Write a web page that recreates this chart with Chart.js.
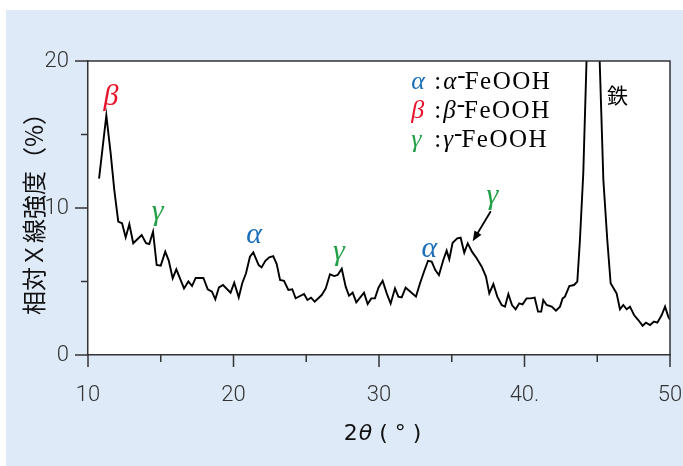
<!DOCTYPE html>
<html>
<head>
<meta charset="utf-8">
<script src="https://cdn.jsdelivr.net/npm/chart.js@4/dist/chart.umd.min.js"></script>
<style>
  html, body { margin: 0; padding: 0; background: #fff; }
  canvas { display: block; }
</style>
</head>
<body>
<canvas id="xrd" width="683" height="466"></canvas>
<script>
// 2θ (°)
const twoTheta = [
  10.76, 11.26, 11.56, 11.81, 12.08, 12.34, 12.59, 12.84, 13.11, 13.69,
  13.99, 14.21, 14.47, 14.72, 15.0, 15.31, 15.55, 15.82, 16.07, 16.6,
  16.9, 17.15, 17.4, 17.93, 18.23, 18.52, 18.75, 19.0, 19.28, 19.8,
  20.05, 20.36, 20.6, 20.86, 21.13, 21.36, 21.73, 21.93, 22.19, 22.46,
  22.73, 22.97, 23.2, 23.47, 23.77, 24.04, 24.27, 24.85, 25.08, 25.33,
  25.58, 26.06, 26.34, 26.63, 26.93, 27.16, 27.44, 27.71, 27.94, 28.19,
  28.44, 28.97, 29.22, 29.47, 29.72, 29.97, 30.25, 30.53, 30.8, 31.1,
  31.33, 31.56, 31.83, 32.08, 32.54, 32.82, 33.11, 33.37, 33.62, 33.87,
  34.12, 34.42, 34.65, 34.83, 35.06, 35.38, 35.61, 35.86, 36.1, 36.39,
  36.71, 37.06, 37.35, 37.58, 37.86, 38.13, 38.43, 38.66, 38.89, 39.14,
  39.39, 39.64, 39.87, 40.14, 40.44, 40.7, 40.93, 41.15, 41.29, 41.52,
  41.87, 42.16, 42.44, 42.62, 42.78, 43.08, 43.4, 43.63, 43.81, 44.04,
  44.7, 45.42, 45.69, 45.92, 46.33, 46.56, 46.79, 47.02, 47.25, 47.53,
  47.82, 48.12, 48.35, 48.63, 48.9, 49.13, 49.43, 49.66, 49.88, 50.0
];
// 相対X線強度 (%)
const intensity = [
  12.0, 16.3, 13.7, 11.2, 9.07, 8.96, 8.0, 8.9, 7.6, 8.16,
  7.6, 7.55, 8.39, 6.12, 6.08, 7.03, 6.42, 5.22, 5.83, 4.53,
  5.0, 4.69, 5.24, 5.24, 4.47, 4.31, 3.79, 4.6, 4.76, 4.24,
  4.92, 3.92, 4.88, 5.56, 6.69, 6.98, 6.12, 5.96, 6.41, 6.64,
  6.73, 6.19, 5.1, 5.05, 4.42, 4.47, 3.86, 4.15, 3.74, 3.9,
  3.63, 4.08, 4.53, 5.49, 5.37, 5.44, 5.87, 4.65, 4.03, 4.24,
  3.58, 4.24, 3.47, 3.85, 3.85, 4.6, 5.05, 4.19, 3.5, 4.53,
  3.97, 3.92, 4.58, 4.37, 3.97, 4.88, 5.71, 6.41, 6.35, 5.78,
  5.44, 6.46, 7.1, 6.51, 7.64, 7.94, 7.98, 6.96, 7.6, 7.03,
  6.58, 6.01, 5.33, 4.19, 4.83, 3.97, 3.4, 3.29, 4.15, 3.4,
  3.11, 3.52, 3.45, 3.85, 3.85, 3.9, 2.95, 2.95, 3.74, 3.4,
  3.29, 3.01, 3.29, 3.85, 3.97, 4.69, 4.76, 4.99, 7.82, 12.36,
  35, 11.9, 7.82, 4.88, 4.19, 3.11, 3.4, 3.11, 3.29, 2.72,
  2.38, 1.99, 2.2, 2.04, 2.27, 2.2, 2.72, 3.29, 2.61, 2.4
];

// axes
const xMajor = [10, 20, 30, 40, 50];
const xMajorLabels = ['10', '20', '30', '40.', '50'];
const xMinor = [15, 25, 35, 45];
const yMajor = [0, 10, 20];
const yMajorLabels = ['0', '10', '20'];
const yMinor = [5, 15];

// peak marks: letter, 2θ, intensity, phase
const peakText = ['β', 'γ', 'α', 'γ', 'α', 'γ'];
const peakX = [11.58, 14.78, 21.41, 27.25, 33.47, 37.8];
const peakY = [17.55, 9.73, 8.13, 7.0, 7.2, 10.8];
const peakPhase = ['beta', 'gamma', 'alpha', 'gamma', 'alpha', 'gamma'];

// legend rows
const legendGreek = ['α', 'β', 'γ'];
const legendPhase = ['alpha', 'beta', 'gamma'];
const legendName = 'FeOOH';

const phaseColor = { alpha: '#1b6fb9', beta: '#e8132b', gamma: '#21a048' };

const serif = '"Liberation Serif", "Times New Roman", serif';
const sans = 'Roboto, "Liberation Sans", sans-serif';
const cjk = '"Noto Sans CJK JP", "Noto Sans", sans-serif';

// fond bleu + cadre, petites graduations, annotations
const decor = {
  id: 'decor',
  beforeDraw(chart) {
    const { ctx, chartArea: a } = chart;
    ctx.save();
    ctx.fillStyle = '#ffffff';
    ctx.fillRect(0, 0, chart.width, chart.height);
    ctx.fillStyle = '#deeaf8';
    ctx.fillRect(6, 10, chart.width - 6, chart.height - 10);
    ctx.fillStyle = '#ffffff';
    ctx.fillRect(a.left, a.top, a.right - a.left, a.bottom - a.top);
    ctx.restore();
  },
  afterDraw(chart) {
    const { ctx, chartArea: a } = chart;
    const xs = chart.scales.x, ys = chart.scales.y;
    ctx.save();

    // frame top / right
    ctx.strokeStyle = '#333';
    ctx.lineWidth = 1.5;
    ctx.beginPath();
    ctx.moveTo(a.left, a.top);
    ctx.lineTo(a.right, a.top);
    ctx.lineTo(a.right, a.bottom);
    ctx.stroke();

    // ticks
    ctx.beginPath();
    xMajor.forEach(v => { const p = xs.getPixelForValue(v); ctx.moveTo(p, a.bottom); ctx.lineTo(p, a.bottom + 12); });
    xMinor.forEach(v => { const p = xs.getPixelForValue(v); ctx.moveTo(p, a.bottom); ctx.lineTo(p, a.bottom + 7); });
    yMajor.forEach(v => { const p = ys.getPixelForValue(v); ctx.moveTo(a.left, p); ctx.lineTo(a.left - 13, p); });
    yMinor.forEach(v => { const p = ys.getPixelForValue(v); ctx.moveTo(a.left, p); ctx.lineTo(a.left - 7, p); });
    ctx.stroke();

    // peak letters
    ctx.textAlign = 'center';
    ctx.textBaseline = 'middle';
    ctx.font = 'italic 30px ' + serif;
    peakText.forEach((t, i) => {
      ctx.fillStyle = phaseColor[peakPhase[i]];
      ctx.fillText(t, xs.getPixelForValue(peakX[i]), ys.getPixelForValue(peakY[i]));
    });

    // arrow to the γ shoulder
    const ax0 = xs.getPixelForValue(37.68), ay0 = ys.getPixelForValue(9.78);
    const ax1 = xs.getPixelForValue(36.44), ay1 = ys.getPixelForValue(7.73);
    const ang = Math.atan2(ay1 - ay0, ax1 - ax0);
    ctx.strokeStyle = '#000';
    ctx.fillStyle = '#000';
    ctx.lineWidth = 1.8;
    ctx.beginPath();
    ctx.moveTo(ax0, ay0);
    ctx.lineTo(ax1 - 6 * Math.cos(ang), ay1 - 6 * Math.sin(ang));
    ctx.stroke();
    ctx.beginPath();
    ctx.moveTo(ax1, ay1);
    ctx.lineTo(ax1 - 11 * Math.cos(ang - 0.38), ay1 - 11 * Math.sin(ang - 0.38));
    ctx.lineTo(ax1 - 11 * Math.cos(ang + 0.38), ay1 - 11 * Math.sin(ang + 0.38));
    ctx.closePath();
    ctx.fill();

    // 鉄
    ctx.font = '21px ' + cjk;
    ctx.fillStyle = '#000';
    ctx.fillText('鉄', xs.getPixelForValue(46.39), ys.getPixelForValue(17.72));

    // legend
    ctx.textAlign = 'left';
    ctx.textBaseline = 'alphabetic';
    const lx = xs.getPixelForValue(32.22);
    legendGreek.forEach((g, i) => {
      const by = ys.getPixelForValue(18.1) + i * 29;
      ctx.letterSpacing = '0px';
      ctx.font = 'italic 26px ' + serif;
      ctx.fillStyle = phaseColor[legendPhase[i]];
      ctx.fillText(g, lx, by);
      ctx.fillStyle = '#000';
      ctx.font = '25px ' + serif;
      let x = lx + 23;
      ctx.fillText(':', x, by);
      x += ctx.measureText(':').width + 2;
      ctx.font = 'italic 25px ' + serif;
      ctx.fillText(g, x, by);
      x += ctx.measureText(g).width + 1;
      ctx.font = '25px ' + serif;
      ctx.fillText('-', x, by - 6);
      x += ctx.measureText('-').width - 1;
      ctx.letterSpacing = '1.5px';
      ctx.fillText(legendName, x, by);
      ctx.letterSpacing = '0px';
    });

    // x title  2θ ( ° )
    const cx = (a.left + a.right) / 2 + 3;
    const ty = 440;
    ctx.fillStyle = '#111';
    ctx.font = '22px "DejaVu Sans", sans-serif';
    const w2 = ctx.measureText('2').width;
    ctx.font = 'italic 22px "DejaVu Sans", sans-serif';
    const wt = ctx.measureText('θ').width;
    ctx.font = '22px "DejaVu Sans", sans-serif';
    const wr = ctx.measureText(' ( ° )').width;
    let tx = cx - (w2 + wt + wr) / 2;
    ctx.fillText('2', tx, ty);
    tx += w2 + 1;
    ctx.font = 'italic 22px "DejaVu Sans", sans-serif';
    ctx.fillText('θ', tx, ty);
    tx += wt;
    ctx.font = '22px "DejaVu Sans", sans-serif';
    ctx.fillText(' ( ° )', tx, ty);

    ctx.restore();
  }
};

const ctx = document.getElementById('xrd').getContext('2d');
new Chart(ctx, {
  type: 'line',
  data: {
    datasets: [{
      data: twoTheta.map((x, i) => ({ x: x, y: intensity[i] })),
      borderColor: '#000',
      borderWidth: 1.9,
      pointRadius: 0,
      tension: 0,
      fill: false
    }]
  },
  options: {
    responsive: false,
    animation: false,
    devicePixelRatio: 1,
    layout: { padding: { left: 0, top: 61, right: 13, bottom: 0 } },
    plugins: { legend: { display: false }, tooltip: { enabled: false } },
    scales: {
      x: {
        type: 'linear',
        min: 10,
        max: 50,
        afterFit: s => { s.height = 111; s.paddingLeft = 0; s.paddingRight = 0; },
        afterBuildTicks: s => { s.ticks = xMajor.map(v => ({ value: v })); },
        ticks: {
          padding: 15,
          color: '#333',
          font: { family: sans, size: 22, weight: '300' },
          maxRotation: 0,
          callback: v => xMajorLabels[xMajor.indexOf(v)]
        },
        grid: { drawOnChartArea: false, drawTicks: true, tickLength: 12, tickColor: 'rgba(0,0,0,0)' },
        border: { color: '#333', width: 1.5 }
      },
      y: {
        min: 0,
        max: 20,
        afterFit: s => { s.width = 88; s.paddingTop = 0; s.paddingBottom = 0; },
        afterBuildTicks: s => { s.ticks = yMajor.map(v => ({ value: v })); },
        ticks: {
          padding: 6,
          color: '#333',
          font: { family: sans, size: 22, weight: '300' },
          callback: v => yMajorLabels[yMajor.indexOf(v)]
        },
        grid: { drawOnChartArea: false, drawTicks: true, tickLength: 13, tickColor: 'rgba(0,0,0,0)' },
        border: { color: '#333', width: 1.5 },
        title: {
          display: true,
          text: '相対Ｘ線強度（%）',
          color: '#111',
          font: { family: cjk, size: 24 },
          padding: { top: 19, bottom: 0 }
        }
      }
    }
  },
  plugins: [decor]
});
</script>
</body>
</html>
